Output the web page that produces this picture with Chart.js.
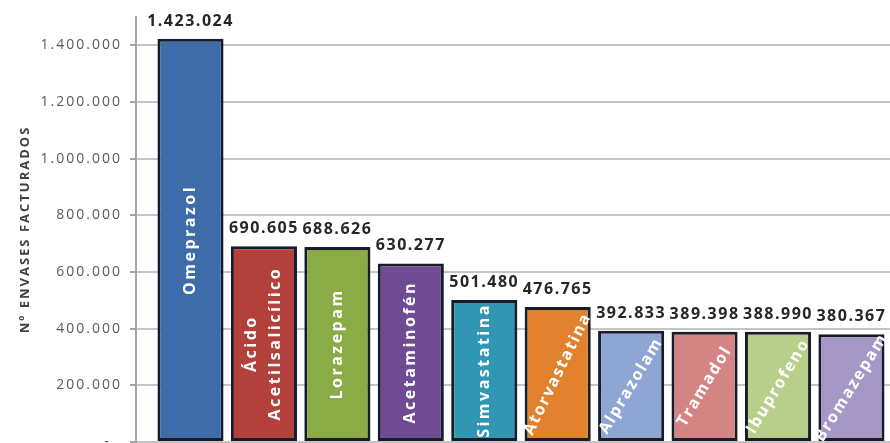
<!DOCTYPE html>
<html>
<head>
<meta charset="utf-8">
<script src="https://cdn.jsdelivr.net/npm/chart.js@4.4.1/dist/chart.umd.min.js"></script>
<style>
  html, body { margin: 0; padding: 0; background: #fff; overflow: hidden; }
  #wrap { width: 890px; height: 443px; position: relative; }
</style>
</head>
<body>
<div id="wrap"><canvas id="chartEnvases"></canvas></div>
<script>
// datos
const medicamentos = [
  "Omeprazol",
  ["Ácido", "Acetilsalicílico"],
  "Lorazepam",
  "Acetaminofén",
  "Simvastatina",
  "Atorvastatina",
  "Alprazolam",
  "Tramadol",
  "Ibuprofeno",
  "Bromazepam",
];
const envases = [1423024, 690605, 688626, 630277, 501480, 476765, 392833, 389398, 388990, 380367];
const yTicks = [0, 200000, 400000, 600000, 800000, 1000000, 1200000, 1400000];
const coloresBarra = [
  "#3d6ca8", "#b4403c", "#8aab45", "#6f4b94", "#3196b2",
  "#e3822e", "#8fa6d4", "#d58484", "#b7cf8b", "#a597c6",
];

const fmt = (v) => v.toLocaleString("de-DE");

/* ==================== ETIQUETAS ==================== */
const etiquetasPlugin = {
  id: "etiquetas",
  beforeUpdate(chart) { chart.ctx.letterSpacing = "2px"; },
  beforeDraw(chart) { chart.ctx.letterSpacing = "2px"; },
  afterDatasetsDraw(chart) {
    const ctx = chart.ctx;
    const meta = chart.getDatasetMeta(0);
    meta.data.forEach((bar, i) => {
      const { x, y, base, width } = bar.getProps(["x", "y", "base", "width"], true);

      // valor encima de la barra
      ctx.save();
      ctx.letterSpacing = "1.5px";
      ctx.font = "bold 16px 'Open Sans'";
      ctx.fillStyle = "#262626";
      ctx.textAlign = "center";
      ctx.textBaseline = "alphabetic";
      ctx.fillText(fmt(envases[i]), x, y - 13);
      ctx.restore();

      // nombre dentro de la barra: vertical en las 5 primeras, en diagonal el resto
      ctx.save();
      ctx.translate(x, (y + base) / 2);
      const angle = i < 5 ? -Math.PI / 2 : -Math.atan2(base - y, width);
      ctx.rotate(angle);
      ctx.letterSpacing = i < 5 ? "2.5px" : "1.8px";
      ctx.font = "bold 16px 'Open Sans'";
      ctx.fillStyle = "#ffffff";
      ctx.textAlign = "center";
      ctx.textBaseline = "middle";
      const lines = [].concat(medicamentos[i]);
      lines.forEach((t, k) => {
        ctx.fillText(t, 0, (k - (lines.length - 1) / 2) * 24);
      });
      ctx.restore();
    });
  },
};

/* ==================== GRAFICO ==================== */
new Chart(document.getElementById("chartEnvases"), {
  type: "bar",
  data: {
    datasets: [{
      data: envases.map((v, i) => ({ x: i, y: v })),
      backgroundColor: coloresBarra,
      borderColor: "#171c2a",
      borderWidth: 3,
      borderSkipped: false,
      barPercentage: 0.9,
      categoryPercentage: 1,
    }],
  },
  options: {
    responsive: true,
    maintainAspectRatio: false,
    devicePixelRatio: 1,
    animation: false,
    layout: { padding: { top: 17, bottom: 1, left: 0, right: 0 } },
    plugins: { legend: { display: false }, tooltip: { enabled: false } },
    scales: {
      x: {
        type: "linear",
        display: false,
        offset: false,
        min: -0.742,
        max: 9.525,
        afterBuildTicks: (s) => { s.ticks = envases.map((_, i) => ({ value: i })); },
      },
      y: {
        min: 0,
        max: 1500000,
        afterBuildTicks: (s) => { s.ticks = yTicks.map((v) => ({ value: v })); },
        afterFit: (s) => { s.width = 136; s.paddingTop = 0; s.paddingBottom = 0; },
        ticks: {
          callback: (v) => (v === 0 ? "-  " : fmt(v)),
          color: "#595959",
          font: { family: "'Open Sans'", size: 14 },
          padding: 8,
        },
        grid: { color: "#c4c4c4", lineWidth: 2, tickLength: 6, tickColor: "#a6a6a6" },
        border: { color: "#a6a6a6", width: 2 },
        title: {
          display: true,
          text: "Nº ENVASES FACTURADOS",
          color: "#404040",
          font: { family: "'Open Sans'", size: 13, weight: "bold" },
          padding: { top: 17, bottom: 0 },
        },
      },
    },
  },
  plugins: [etiquetasPlugin],
});
</script>
</body>
</html>
